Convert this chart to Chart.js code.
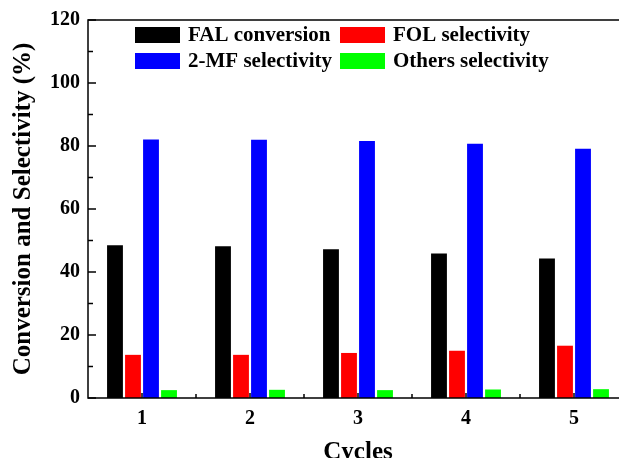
<!DOCTYPE html>
<html>
<head>
<meta charset="utf-8">
<script src="https://cdn.jsdelivr.net/npm/chart.js@4/dist/chart.umd.min.js"></script>
<style>
  html, body { margin: 0; padding: 0; background: #fff; overflow: hidden; }
  #wrap { width: 628px; height: 458px; }
</style>
</head>
<body>
<div id="wrap"><canvas id="cycleChart"></canvas></div>
<script>
// Recycling runs of the catalyst
const cycles = ['1', '2', '3', '4', '5'];
const falConversion = [48.5, 48.2, 47.2, 45.9, 44.3];
const folSelectivity = [13.7, 13.7, 14.3, 15.0, 16.6];
const mfSelectivity = [82.1, 82.0, 81.6, 80.7, 79.1];
const othersSelectivity = [2.5, 2.6, 2.5, 2.7, 2.8];
const yTicks = [0, 20, 40, 60, 80, 100, 120];

const serif = '"Liberation Serif", "Times New Roman", serif';

// Legend sits inside the plot, two rows by two columns
const legendItems = [
    { label: 'FAL conversion', color: '#000000', x: 135, y: 27 },
    { label: 'FOL selectivity', color: '#ff0000', x: 340, y: 27 },
    { label: '2-MF selectivity', color: '#0000ff', x: 135, y: 53 },
    { label: 'Others selectivity', color: '#00ff00', x: 340, y: 53 }
];

// Frame, inward tick marks and the in-plot legend
const framePlugin = {
    id: 'frame',
    beforeDatasetsDraw(chart) {
        const ctx = chart.ctx;
        const area = chart.chartArea;
        const xs = chart.scales.x;
        const ys = chart.scales.y;
        ctx.save();
        ctx.strokeStyle = '#000';
        ctx.lineWidth = 1.5;

        // y ticks every 10, longer on labelled values
        for (let v = 0; v <= 120; v += 10) {
            const py = ys.getPixelForValue(v);
            const len = v % 20 === 0 ? 8 : 5;
            ctx.beginPath();
            ctx.moveTo(area.left, py);
            ctx.lineTo(area.left + len, py);
            ctx.stroke();
        }
        // x ticks at category centres and between categories
        for (let i = 0; i < cycles.length; i++) {
            const px = xs.getPixelForValue(i);
            const half = (xs.getPixelForValue(1) - xs.getPixelForValue(0)) / 2;
            ctx.beginPath();
            ctx.moveTo(px, area.bottom);
            ctx.lineTo(px, area.bottom - 5);
            ctx.moveTo(px + half, area.bottom);
            ctx.lineTo(px + half, area.bottom - 4);
            ctx.stroke();
        }
        ctx.restore();
    },
    afterDraw(chart) {
        const ctx = chart.ctx;
        const area = chart.chartArea;
        ctx.save();
        ctx.strokeStyle = '#000';
        ctx.lineWidth = 1.5;
        ctx.beginPath();
        ctx.moveTo(area.right + 5, area.top);
        ctx.lineTo(area.left, area.top);
        ctx.lineTo(area.left, area.bottom);
        ctx.lineTo(area.right + 5, area.bottom);
        ctx.stroke();

        ctx.font = 'bold 21px ' + serif;
        ctx.textBaseline = 'middle';
        legendItems.forEach(function(item) {
            ctx.fillStyle = item.color;
            ctx.fillRect(item.x, item.y, 45, 16);
            ctx.fillStyle = '#000';
            ctx.fillText(item.label, item.x + 53, item.y + 9);
        });
        ctx.restore();
    }
};

new Chart(document.getElementById('cycleChart'), {
    type: 'bar',
    data: {
        labels: cycles,
        datasets: [
            { label: 'FAL conversion', data: falConversion, backgroundColor: '#000000' },
            { label: 'FOL selectivity', data: folSelectivity, backgroundColor: '#ff0000' },
            { label: '2-MF selectivity', data: mfSelectivity, backgroundColor: '#0000ff' },
            { label: 'Others selectivity', data: othersSelectivity, backgroundColor: '#00ff00' }
        ]
    },
    options: {
        responsive: true,
        maintainAspectRatio: false,
        animation: false,
        layout: { padding: { top: 20, right: 0, left: 0, bottom: 0 } },
        datasets: {
            bar: { categoryPercentage: 0.667, barPercentage: 0.88 }
        },
        plugins: {
            legend: { display: false },
            tooltip: { enabled: false }
        },
        scales: {
            x: {
                grid: { display: false, drawTicks: false },
                border: { display: false },
                ticks: {
                    color: '#000',
                    padding: 9,
                    font: { family: serif, size: 20, weight: 'bold' }
                },
                title: {
                    display: true,
                    text: 'Cycles',
                    color: '#000',
                    padding: { top: 0, bottom: -7 },
                    font: { family: serif, size: 25, weight: 'bold', lineHeight: 1 }
                },
                afterFit(scale) { scale.height = 60; }
            },
            y: {
                min: 0,
                max: 120,
                grid: { display: false, drawTicks: false },
                border: { display: false },
                afterBuildTicks(scale) {
                    scale.ticks = yTicks.map(function(v) { return { value: v }; });
                },
                ticks: {
                    color: '#000',
                    padding: 8,
                    font: { family: serif, size: 20, weight: 'bold' }
                },
                title: {
                    display: true,
                    text: 'Conversion and Selectivity (%)',
                    color: '#000',
                    padding: { top: 11, bottom: 0 },
                    font: { family: serif, size: 25, weight: 'bold', lineHeight: 1 }
                },
                afterFit(scale) { scale.width = 88; }
            }
        }
    },
    plugins: [framePlugin]
});
</script>
</body>
</html>
